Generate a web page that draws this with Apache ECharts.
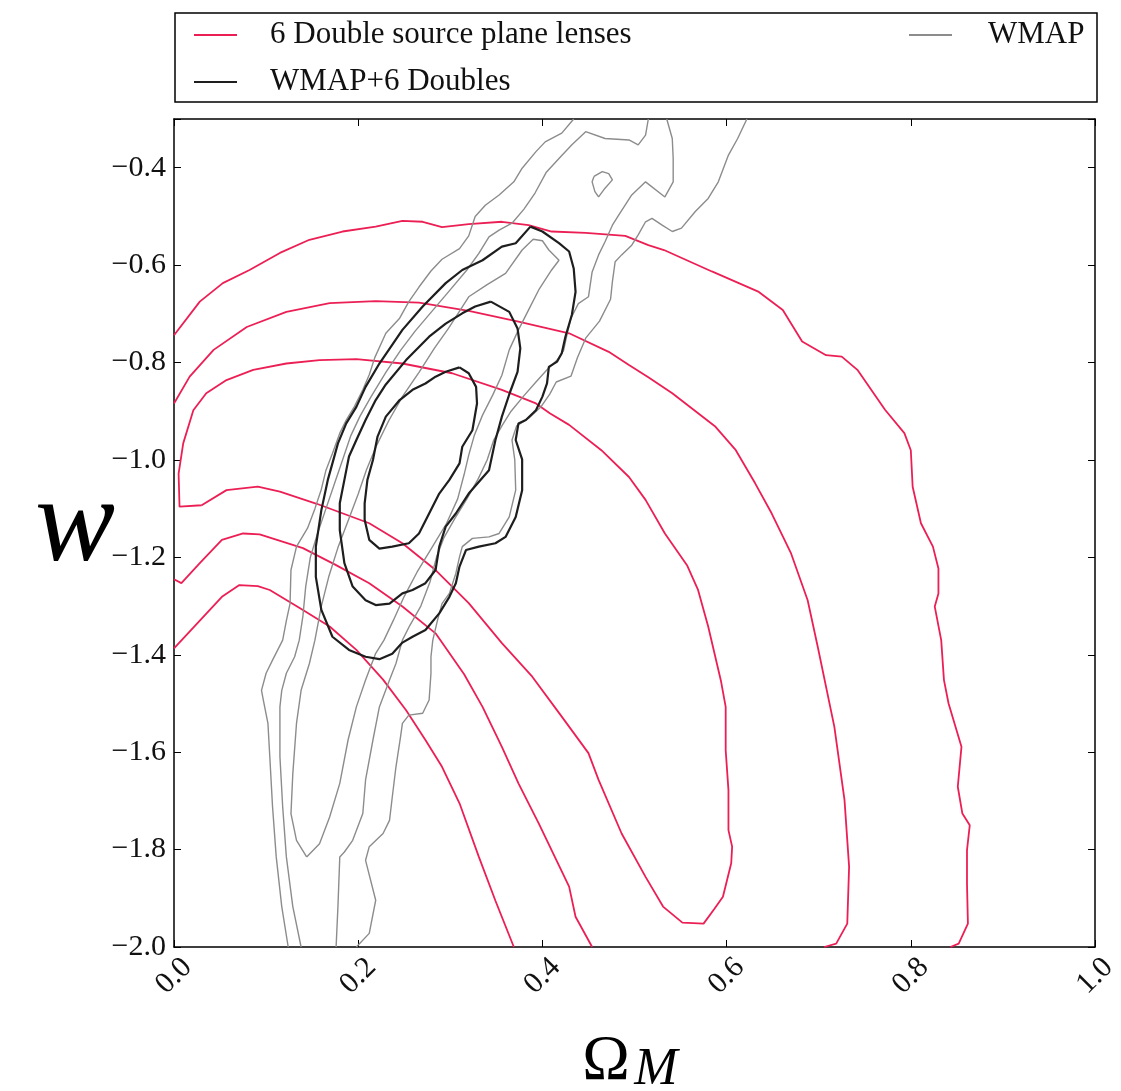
<!DOCTYPE html>
<html>
<head>
<meta charset="utf-8">
<script src="https://cdn.jsdelivr.net/npm/echarts/dist/echarts.min.js"></script>
<style>
  html, body { margin: 0; padding: 0; background: #fff; }
  #chart { width: 1121px; height: 1091px; }
</style>
</head>
<body>
<div id="chart"></div>
<script>
// contour lines, as [Omega_M, w] points
var redOuterTop = [[0,-0.744],[0.028,-0.675],[0.053,-0.637],[0.082,-0.61],[0.115,-0.575],[0.147,-0.548],[0.183,-0.531],[0.219,-0.521],[0.248,-0.509],[0.27,-0.511],[0.291,-0.522],[0.32,-0.516],[0.356,-0.511],[0.385,-0.518],[0.41,-0.531],[0.447,-0.534],[0.49,-0.54],[0.515,-0.559],[0.532,-0.569],[0.584,-0.613],[0.635,-0.655],[0.661,-0.692],[0.682,-0.757],[0.708,-0.785],[0.725,-0.788],[0.742,-0.815],[0.772,-0.897],[0.793,-0.945],[0.8,-0.98],[0.802,-1.055],[0.811,-1.13],[0.824,-1.178],[0.83,-1.223],[0.83,-1.274],[0.826,-1.301],[0.833,-1.37],[0.836,-1.452],[0.841,-1.5],[0.855,-1.589],[0.851,-1.671],[0.856,-1.726],[0.864,-1.75],[0.861,-1.801],[0.861,-1.87],[0.862,-1.952],[0.852,-1.993],[0.843,-2.0]];
var redOuterBottom = [[0,-1.387],[0.025,-1.336],[0.052,-1.281],[0.071,-1.257],[0.091,-1.259],[0.104,-1.267],[0.14,-1.308],[0.169,-1.342],[0.198,-1.39],[0.227,-1.451],[0.252,-1.514],[0.273,-1.575],[0.291,-1.63],[0.31,-1.705],[0.331,-1.815],[0.349,-1.905],[0.369,-2.0]];
var redMidTop = [[0,-0.884],[0.017,-0.829],[0.043,-0.774],[0.079,-0.727],[0.122,-0.696],[0.169,-0.678],[0.219,-0.674],[0.266,-0.677],[0.32,-0.694],[0.374,-0.716],[0.429,-0.74],[0.472,-0.778],[0.494,-0.805],[0.515,-0.83],[0.541,-0.863],[0.588,-0.932],[0.61,-0.98],[0.631,-1.048],[0.649,-1.11],[0.67,-1.192],[0.688,-1.288],[0.699,-1.384],[0.717,-1.548],[0.728,-1.698],[0.733,-1.835],[0.731,-1.952],[0.719,-1.993],[0.706,-2.0]];
var redMidBottom = [[0,-1.245],[0.008,-1.253],[0.028,-1.212],[0.052,-1.164],[0.075,-1.151],[0.093,-1.153],[0.14,-1.181],[0.176,-1.216],[0.212,-1.253],[0.248,-1.301],[0.284,-1.356],[0.315,-1.44],[0.335,-1.507],[0.356,-1.589],[0.374,-1.664],[0.396,-1.746],[0.429,-1.876],[0.436,-1.938],[0.454,-2.0]];
var redInner = [[0.03,-1.093],[0.006,-1.096],[0.005,-1.028],[0.01,-0.966],[0.021,-0.898],[0.035,-0.863],[0.057,-0.836],[0.086,-0.815],[0.122,-0.802],[0.158,-0.795],[0.198,-0.793],[0.248,-0.802],[0.302,-0.822],[0.356,-0.856],[0.393,-0.884],[0.408,-0.904],[0.429,-0.928],[0.464,-0.98],[0.494,-1.035],[0.512,-1.082],[0.533,-1.151],[0.557,-1.216],[0.569,-1.267],[0.58,-1.342],[0.594,-1.455],[0.599,-1.507],[0.599,-1.596],[0.602,-1.678],[0.602,-1.76],[0.606,-1.794],[0.605,-1.828],[0.596,-1.897],[0.587,-1.921],[0.575,-1.952],[0.552,-1.95],[0.531,-1.917],[0.512,-1.856],[0.486,-1.767],[0.461,-1.657],[0.45,-1.602],[0.421,-1.527],[0.389,-1.445],[0.356,-1.376],[0.32,-1.294],[0.284,-1.226],[0.248,-1.171],[0.212,-1.13],[0.155,-1.09],[0.115,-1.065],[0.091,-1.055],[0.057,-1.062],[0.03,-1.093]];

var greyOuterLeft = [[0.124,-2.0],[0.117,-1.917],[0.111,-1.815],[0.107,-1.712],[0.104,-1.609],[0.102,-1.541],[0.097,-1.493],[0.095,-1.473],[0.1,-1.438],[0.107,-1.411],[0.118,-1.37],[0.122,-1.33],[0.126,-1.295],[0.127,-1.226],[0.133,-1.178],[0.145,-1.14],[0.153,-1.1],[0.16,-1.06],[0.165,-1.021],[0.172,-0.987],[0.18,-0.945],[0.187,-0.918],[0.196,-0.89],[0.205,-0.856],[0.212,-0.825],[0.218,-0.79],[0.23,-0.74],[0.245,-0.709],[0.255,-0.675],[0.266,-0.645],[0.279,-0.612],[0.291,-0.588],[0.31,-0.566],[0.32,-0.54],[0.327,-0.5],[0.338,-0.477],[0.353,-0.456],[0.369,-0.429],[0.378,-0.401],[0.393,-0.367],[0.403,-0.347],[0.421,-0.329],[0.434,-0.3]];
var greyOuterRight = [[0.622,-0.3],[0.612,-0.34],[0.602,-0.374],[0.591,-0.429],[0.58,-0.463],[0.566,-0.49],[0.551,-0.524],[0.541,-0.531],[0.53,-0.518],[0.519,-0.504],[0.512,-0.511],[0.504,-0.538],[0.497,-0.559],[0.486,-0.579],[0.479,-0.593],[0.476,-0.634],[0.474,-0.67],[0.462,-0.715],[0.447,-0.75],[0.438,-0.79],[0.431,-0.828],[0.415,-0.84],[0.408,-0.865],[0.398,-0.892],[0.386,-0.913],[0.372,-0.93],[0.367,-0.959],[0.37,-1.0],[0.371,-1.062],[0.364,-1.117],[0.353,-1.151],[0.342,-1.158],[0.324,-1.161],[0.313,-1.178],[0.31,-1.199],[0.306,-1.233],[0.299,-1.274],[0.291,-1.295],[0.286,-1.33],[0.281,-1.37],[0.279,-1.404],[0.279,-1.438],[0.277,-1.493],[0.27,-1.52],[0.255,-1.524],[0.248,-1.541],[0.246,-1.568],[0.241,-1.63],[0.237,-1.692],[0.234,-1.74],[0.227,-1.767],[0.212,-1.794],[0.208,-1.822],[0.219,-1.904],[0.212,-1.972],[0.198,-2.0]];
var greyMidLeft = [[0.138,-2.0],[0.129,-1.917],[0.122,-1.815],[0.118,-1.712],[0.115,-1.609],[0.115,-1.507],[0.117,-1.473],[0.122,-1.438],[0.131,-1.404],[0.136,-1.37],[0.14,-1.32],[0.143,-1.26],[0.148,-1.2],[0.156,-1.15],[0.165,-1.1],[0.174,-1.05],[0.183,-1.0],[0.192,-0.95],[0.202,-0.91],[0.214,-0.87],[0.23,-0.82],[0.246,-0.775],[0.262,-0.735],[0.28,-0.695],[0.298,-0.655],[0.318,-0.61],[0.331,-0.576],[0.342,-0.542],[0.353,-0.528],[0.367,-0.514],[0.38,-0.485],[0.392,-0.452],[0.404,-0.41],[0.418,-0.381],[0.432,-0.353],[0.447,-0.326],[0.468,-0.34],[0.494,-0.343],[0.504,-0.353],[0.512,-0.333],[0.515,-0.3]];
var greyMidRight = [[0.535,-0.3],[0.541,-0.34],[0.542,-0.381],[0.542,-0.429],[0.533,-0.46],[0.512,-0.429],[0.497,-0.456],[0.483,-0.497],[0.476,-0.518],[0.468,-0.552],[0.461,-0.579],[0.454,-0.614],[0.45,-0.665],[0.439,-0.679],[0.431,-0.709],[0.427,-0.74],[0.423,-0.775],[0.416,-0.795],[0.405,-0.815],[0.393,-0.84],[0.38,-0.868],[0.366,-0.9],[0.356,-0.93],[0.347,-0.96],[0.34,-1.0],[0.33,-1.04],[0.318,-1.08],[0.305,-1.12],[0.293,-1.16],[0.285,-1.2],[0.278,-1.25],[0.268,-1.3],[0.256,-1.34],[0.248,-1.37],[0.241,-1.418],[0.234,-1.452],[0.223,-1.507],[0.216,-1.575],[0.208,-1.657],[0.205,-1.726],[0.194,-1.781],[0.185,-1.805],[0.18,-1.815],[0.178,-1.917],[0.176,-2.0]];
var greyInner = [[0.144,-1.815],[0.133,-1.781],[0.127,-1.726],[0.129,-1.644],[0.133,-1.541],[0.138,-1.473],[0.147,-1.418],[0.153,-1.37],[0.16,-1.3],[0.168,-1.24],[0.178,-1.18],[0.19,-1.12],[0.2,-1.07],[0.209,-1.02],[0.22,-0.97],[0.233,-0.92],[0.248,-0.87],[0.266,-0.82],[0.283,-0.77],[0.298,-0.73],[0.32,-0.665],[0.34,-0.64],[0.36,-0.617],[0.378,-0.569],[0.39,-0.547],[0.4,-0.55],[0.407,-0.569],[0.418,-0.59],[0.41,-0.61],[0.396,-0.651],[0.385,-0.692],[0.374,-0.733],[0.364,-0.774],[0.356,-0.826],[0.346,-0.867],[0.335,-0.908],[0.326,-0.95],[0.32,-0.99],[0.315,-1.03],[0.308,-1.08],[0.296,-1.13],[0.28,-1.18],[0.264,-1.23],[0.25,-1.28],[0.238,-1.33],[0.228,-1.37],[0.219,-1.397],[0.208,-1.452],[0.198,-1.507],[0.189,-1.575],[0.18,-1.664],[0.169,-1.733],[0.158,-1.788],[0.144,-1.815]];
var greyIsland = [[0.456,-0.418],[0.465,-0.408],[0.472,-0.412],[0.476,-0.425],[0.468,-0.442],[0.461,-0.46],[0.457,-0.449],[0.454,-0.429],[0.456,-0.418]];

var blackOuter = [[0.387,-0.521],[0.4,-0.531],[0.418,-0.555],[0.429,-0.572],[0.434,-0.607],[0.436,-0.655],[0.432,-0.702],[0.425,-0.747],[0.421,-0.781],[0.416,-0.798],[0.407,-0.809],[0.405,-0.843],[0.4,-0.87],[0.393,-0.898],[0.382,-0.918],[0.374,-0.925],[0.371,-0.959],[0.378,-0.999],[0.378,-1.062],[0.371,-1.117],[0.36,-1.158],[0.349,-1.171],[0.331,-1.178],[0.317,-1.185],[0.31,-1.219],[0.306,-1.253],[0.299,-1.281],[0.288,-1.315],[0.273,-1.349],[0.259,-1.363],[0.248,-1.375],[0.237,-1.398],[0.223,-1.409],[0.208,-1.404],[0.19,-1.39],[0.172,-1.363],[0.16,-1.308],[0.154,-1.24],[0.154,-1.178],[0.16,-1.103],[0.167,-1.041],[0.172,-1.007],[0.178,-0.966],[0.187,-0.925],[0.198,-0.891],[0.208,-0.85],[0.223,-0.802],[0.248,-0.733],[0.27,-0.685],[0.295,-0.637],[0.313,-0.61],[0.335,-0.59],[0.356,-0.562],[0.371,-0.555],[0.387,-0.521]];
var blackMid = [[0.344,-0.675],[0.364,-0.696],[0.373,-0.73],[0.376,-0.771],[0.373,-0.819],[0.365,-0.86],[0.356,-0.911],[0.349,-0.959],[0.342,-1.021],[0.32,-1.069],[0.306,-1.11],[0.295,-1.137],[0.288,-1.178],[0.284,-1.226],[0.273,-1.253],[0.259,-1.267],[0.248,-1.274],[0.234,-1.295],[0.219,-1.298],[0.208,-1.288],[0.194,-1.26],[0.185,-1.212],[0.18,-1.144],[0.18,-1.089],[0.185,-1.041],[0.19,-0.993],[0.198,-0.959],[0.208,-0.918],[0.219,-0.877],[0.23,-0.845],[0.252,-0.795],[0.277,-0.747],[0.295,-0.72],[0.313,-0.699],[0.327,-0.685],[0.344,-0.675]];
var blackInner = [[0.31,-0.81],[0.32,-0.822],[0.328,-0.85],[0.329,-0.884],[0.324,-0.939],[0.313,-0.973],[0.31,-1.007],[0.299,-1.041],[0.288,-1.069],[0.277,-1.11],[0.266,-1.151],[0.255,-1.171],[0.237,-1.178],[0.223,-1.182],[0.212,-1.164],[0.207,-1.123],[0.207,-1.089],[0.21,-1.041],[0.216,-1.0],[0.221,-0.952],[0.23,-0.911],[0.245,-0.877],[0.259,-0.856],[0.273,-0.843],[0.284,-0.829],[0.295,-0.819],[0.31,-0.81]];

var legendNames = ['6 Double source plane lenses', 'WMAP+6 Doubles', 'WMAP'];

var RED = '#ec1f55';
var GREY = '#8c8c8c';
var BLACK = '#1e1e1e';
var SERIF = '"Liberation Serif", "DejaVu Serif", serif';

function contour(name, data, color, width) {
  return {
    name: name,
    type: 'line',
    data: data,
    symbol: 'none',
    smooth: false,
    clip: true,
    silent: true,
    lineStyle: { color: color, width: width },
    itemStyle: { color: color },
    emphasis: { disabled: true }
  };
}

var series = [
  contour(legendNames[0], redOuterTop, RED, 1.8),
  contour(legendNames[0], redOuterBottom, RED, 1.8),
  contour(legendNames[0], redMidTop, RED, 1.8),
  contour(legendNames[0], redMidBottom, RED, 1.8),
  contour(legendNames[0], redInner, RED, 1.8),
  contour(legendNames[2], greyOuterLeft, GREY, 1.4),
  contour(legendNames[2], greyOuterRight, GREY, 1.4),
  contour(legendNames[2], greyMidLeft, GREY, 1.4),
  contour(legendNames[2], greyMidRight, GREY, 1.4),
  contour(legendNames[2], greyInner, GREY, 1.4),
  contour(legendNames[2], greyIsland, GREY, 1.4),
  contour(legendNames[1], blackOuter, BLACK, 2.2),
  contour(legendNames[1], blackMid, BLACK, 2.2),
  contour(legendNames[1], blackInner, BLACK, 2.2)
];

function yLabel(v) {
  if (Math.abs(v + 0.3) < 1e-6) return '';
  return (v < 0 ? '\u2212' : '') + Math.abs(v).toFixed(1);
}

var axisLine = { show: true, onZero: false, lineStyle: { color: '#000', width: 1.5 } };
var axisTick = { show: true, inside: true, length: 7, lineStyle: { color: '#000', width: 1 } };
var legendText = { fontFamily: SERIF, fontSize: 31, lineHeight: 32, color: '#111', padding: [0, 0, 0, 28] };

var myChart = echarts.init(document.getElementById('chart'));
myChart.setOption({
  animation: false,
  backgroundColor: '#fff',
  grid: { left: 174, top: 119, width: 924, height: 828, containLabel: false },
  legend: [
    {
      data: [legendNames[0], legendNames[1]],
      orient: 'vertical',
      left: 194,
      top: 19,
      padding: 0,
      icon: 'rect',
      itemWidth: 43,
      itemHeight: 2,
      itemGap: 15,
      selectedMode: false,
      textStyle: legendText
    },
    {
      data: [legendNames[2]],
      orient: 'vertical',
      left: 909,
      top: 19,
      padding: 0,
      icon: 'rect',
      itemWidth: 43,
      itemHeight: 2,
      selectedMode: false,
      textStyle: { fontFamily: SERIF, fontSize: 31, lineHeight: 32, color: '#111', padding: [0, 0, 0, 31] }
    }
  ],
  xAxis: [
    {
      type: 'value',
      position: 'bottom',
      min: 0,
      max: 1,
      interval: 0.2,
      axisLine: axisLine,
      axisTick: axisTick,
      splitLine: { show: false },
      axisLabel: {
        rotate: 45,
        margin: 29,
        align: 'center',
        verticalAlign: 'middle',
        fontFamily: SERIF,
        fontSize: 30,
        color: '#111',
        formatter: function (v) { return v.toFixed(1); }
      }
    },
    {
      type: 'value',
      position: 'top',
      min: 0,
      max: 1,
      interval: 0.2,
      axisLine: axisLine,
      axisTick: axisTick,
      axisLabel: { show: false },
      splitLine: { show: false }
    }
  ],
  yAxis: [
    {
      type: 'value',
      position: 'left',
      min: -2.0,
      max: -0.3,
      interval: 0.2,
      axisLine: axisLine,
      axisTick: axisTick,
      splitLine: { show: false },
      axisLabel: {
        margin: 8,
        fontFamily: SERIF,
        fontSize: 30,
        color: '#111',
        formatter: yLabel
      }
    },
    {
      type: 'value',
      position: 'right',
      min: -2.0,
      max: -0.3,
      interval: 0.2,
      axisLine: axisLine,
      axisTick: axisTick,
      axisLabel: { show: false },
      splitLine: { show: false }
    }
  ],
  graphic: [
    // legend frame
    {
      type: 'rect',
      shape: { x: 175, y: 13, width: 922, height: 89 },
      style: { fill: 'none', stroke: '#000', lineWidth: 1.5 },
      z: 10
    },
    // axis titles
    {
      type: 'text',
      style: { text: 'w', x: 75, y: 528, align: 'center', verticalAlign: 'middle', font: 'italic 120px ' + SERIF, fill: '#000' }
    },
    {
      type: 'text',
      style: { text: '\u03A9', x: 606, y: 1062, align: 'center', verticalAlign: 'middle', font: '64px ' + SERIF, fill: '#000' }
    },
    {
      type: 'text',
      style: { text: 'M', x: 656, y: 1070, align: 'center', verticalAlign: 'middle', font: 'italic 52px ' + SERIF, fill: '#000' }
    }
  ],
  series: series
});
</script>
</body>
</html>
